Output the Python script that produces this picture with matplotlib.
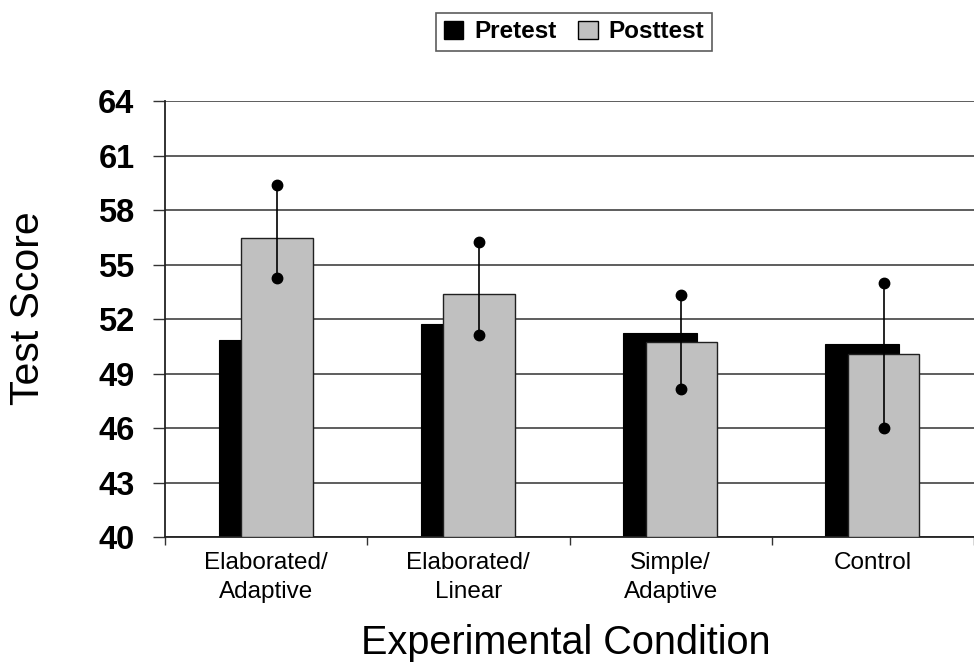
import matplotlib
matplotlib.use("Agg")
import matplotlib.pyplot as plt
import numpy as np
from matplotlib.patches import Patch

plt.rcParams['font.family'] = ['Liberation Sans', 'DejaVu Sans']

categories = ["Elaborated/\nAdaptive", "Elaborated/\nLinear", "Simple/\nAdaptive", "Control"]
pretest = [50.85, 51.75, 51.25, 50.6]
posttest = [56.45, 53.4, 50.75, 50.1]
post_upper = [59.4, 56.25, 53.3, 54.0]
post_lower = [54.25, 51.1, 48.15, 46.0]
yticks = [40, 43, 46, 49, 52, 55, 58, 61, 64]

W, H = 974, 662
fig = plt.figure(figsize=(W / 100, H / 100), dpi=100)
ax = fig.add_axes([165 / W, 125 / H, 809 / W, 436 / H])

x = np.arange(len(categories))
black_off, black_w = -0.235, 0.363
gray_off, gray_w = -0.123, 0.353

ax.bar(x + black_off, np.array(pretest) - 40, width=black_w, bottom=40, align='edge',
       color='black', edgecolor='black', linewidth=0.8, zorder=2, label='Pretest')
ax.bar(x + gray_off, np.array(posttest) - 40, width=gray_w, bottom=40, align='edge',
       color='#c0c0c0', edgecolor='#202020', linewidth=1.0, zorder=3, label='Posttest')

ex = x + gray_off + gray_w / 2
ax.vlines(ex, post_lower, post_upper, color='black', linewidth=1.2, zorder=4)
ax.plot(ex, post_upper, 'o', color='black', markersize=7.5, zorder=5)
ax.plot(ex, post_lower, 'o', color='black', markersize=7.5, zorder=5)

ax.set_ylim(40, 64)
ax.set_xlim(-0.5, -0.5 + 809 / 204)
ax.set_yticks(yticks)
ax.set_yticklabels([str(t) for t in yticks], fontsize=23.5, fontweight='bold')
ax.tick_params(axis='y', direction='out', length=9, width=1.0, pad=13, color='#333333')
ax.yaxis.grid(True, color='#505050', linewidth=1.3, zorder=0)
ax.set_axisbelow(True)

ax.set_xticks(x)
ax.set_xticklabels(categories, fontsize=17.5, linespacing=1.42)
ax.tick_params(axis='x', which='major', length=0, pad=11)
ax.set_xticks(np.arange(len(categories) + 1) - 0.5, minor=True)
ax.tick_params(axis='x', which='minor', direction='out', length=6, width=1.0, color='#333333')

for s in ['top', 'right']:
    ax.spines[s].set_visible(False)
for s in ['left', 'bottom']:
    ax.spines[s].set_color('#222222')
    ax.spines[s].set_linewidth(1.3)

fig.text(28 / W, (H - 308) / H, "Test Score", rotation=90, fontsize=29.5,
         ha='center', va='center')
fig.text(566 / W, (H - 654) / H, "Experimental Condition", fontsize=28.5,
         ha='center', va='baseline')

handles = [Patch(facecolor='black', edgecolor='black'),
           Patch(facecolor='#c0c0c0', edgecolor='black')]
leg = fig.legend(handles, ['Pretest', 'Posttest'], loc='center',
                 bbox_to_anchor=(574 / W, (H - 32) / H), ncol=2,
                 prop={'size': 17.5, 'weight': 'bold'}, frameon=True, fancybox=False,
                 handlelength=0.8, handleheight=0.8, handletextpad=0.45,
                 columnspacing=0.9, borderpad=0.3, borderaxespad=0)
leg.get_frame().set_edgecolor('#333333')
leg.get_frame().set_linewidth(1.2)

fig.savefig("out.png", dpi=100)
